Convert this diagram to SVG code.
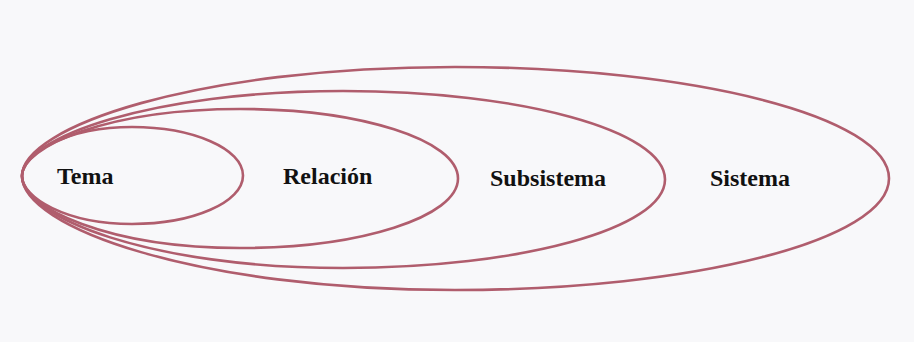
<svg xmlns="http://www.w3.org/2000/svg" width="914" height="342" viewBox="0 0 914 342">
<style>
.ring{fill:none;stroke:#b05d6d;stroke-width:2.6}
.lbl{font-family:"Liberation Serif","Times New Roman",serif;font-weight:bold;font-size:24px;fill:#111}
</style>
<rect width="914" height="342" fill="#f8f8fa"/>
<g id="sistema">
<path class="ring" d="M22,176 C22,127 195,67 455,67 C694,67 889,117 889,178.5 C889,240 694,290 455,290 C195,290 22,227 22,176 Z"/>
<text class="lbl" x="710" y="186">Sistema</text>
</g>
<g id="subsistema">
<path class="ring" d="M22,176 C22,138 150,91 343,91 C521,91 665,130.6 665,179.5 C665,228.4 521,268 343,268 C150,268 22,217 22,176 Z"/>
<text class="lbl" x="490" y="186">Subsistema</text>
</g>
<g id="relacion">
<path class="ring" d="M22,176 C22,146 109,109 240,109 C360,109 458,140 458,178.5 C458,217 360,248 240,248 C109,248 22,208 22,176 Z"/>
<text class="lbl" x="283" y="184">Relación</text>
</g>
<g id="tema">
<path class="ring" d="M22,176 C22,154 66,127 132,127 C193,127 243,148.7 243,175.5 C243,202.3 193,224 132,224 C66,224 22,197.6 22,176 Z"/>
<text class="lbl" x="57" y="184">Tema</text>
</g>
<g id="connectors"/>
</svg>
